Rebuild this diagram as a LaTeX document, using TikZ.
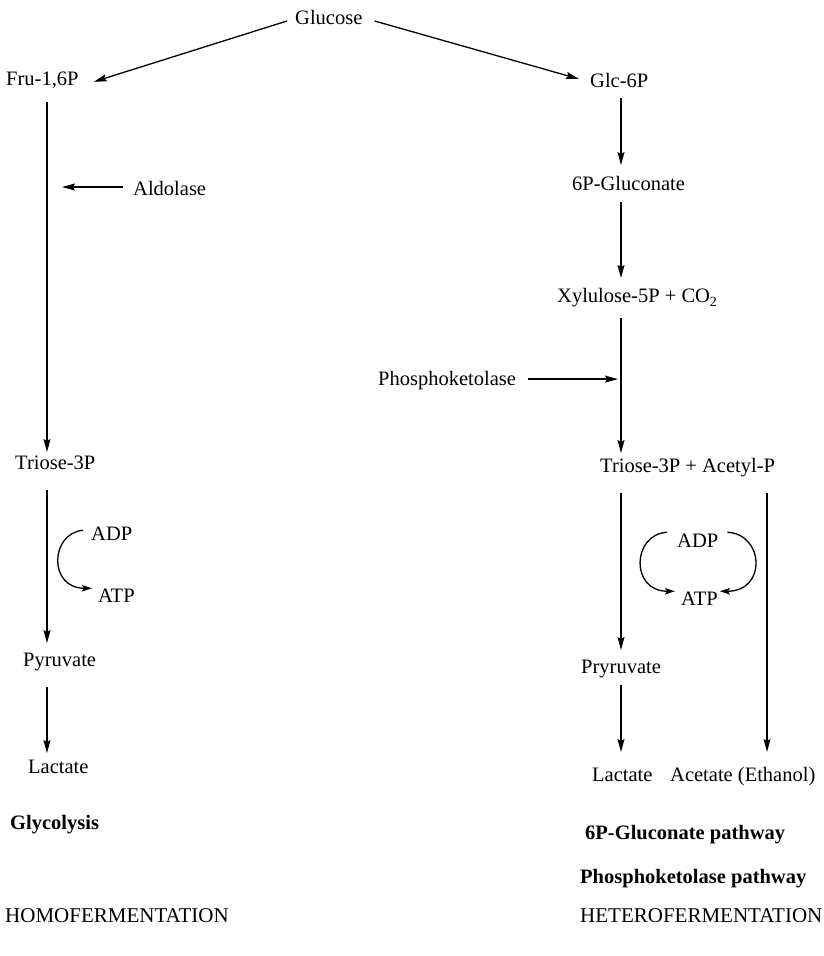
\documentclass[tikz,border=0pt]{standalone}
\usepackage{fontspec}
\setmainfont{Liberation Serif}
\usetikzlibrary{arrows.meta,calc}
\begin{document}
\begin{tikzpicture}[x=1pt,y=-1pt,
  lbl/.style={inner sep=0pt, anchor=base west, font=\fontsize{20.5}{24}\selectfont},
  bold/.style={lbl, font=\fontsize{20.5}{24}\selectfont\bfseries},
  big/.style={lbl, font=\fontsize{21}{24}\selectfont},
  arr/.style={line width=1.3pt, -{Stealth[length=13pt,width=7pt,inset=2pt]}},
  cyc/.style={line width=1.3pt, -{Stealth[length=10pt,width=6.5pt,inset=2pt]}}]
\useasboundingbox (0,0) rectangle (823,956);
\coordinate (L) at (47,0);
\coordinate (R) at (621,0);
\coordinate (RR) at (767,0);
% nodes
\node[lbl] (gl) at (295,24) {Glucose};
\node[lbl] (fru) at (6,85) {Fru-1,6P};
\node[lbl] (glc) at (590,87) {Glc-6P};
\node[lbl] (ald) at (133,195) {Aldolase};
\node[lbl] (triL) at (15,469) {Triose-3P};
\node[lbl] (adpL) at (91,540) {ADP};
\node[lbl] (atpL) at (98,602) {ATP};
\node[lbl] (pyr) at (23,666) {Pyruvate};
\node[lbl] (lacL) at (28,773) {Lactate};
\node[bold] (glyc) at (10,829) {Glycolysis};
\node[big] (homo) at (5,922) {HOMOFERMENTATION};
\node[lbl] (gluc) at (572,190) {6P-Gluconate};
\node[lbl] (xyl) at (557,302) {Xylulose-5P + CO\raisebox{-0.45ex}{\fontsize{14}{14}\selectfont 2}};
\node[lbl] (phk) at (378,385) {Phosphoketolase};
\node[lbl] (triR) at (600,472) {Triose-3P + Acetyl-P};
\node[lbl] (adpR) at (677,547) {ADP};
\node[lbl] (atpR) at (681,605) {ATP};
\node[lbl] (pry) at (581,673) {Pryruvate};
\node[lbl] (lacR) at (592,781) {Lactate};
\node[lbl] (acet) at (670,781) {Acetate (Ethanol)};
\node[bold] (pgp) at (585,839) {6P-Gluconate pathway};
\node[bold] (pkp) at (580,883) {Phosphoketolase pathway};
\node[big] (hetero) at (580,922) {HETEROFERMENTATION};
% diagonal arrows
\draw[arr] ($(gl.west)+(-8,4)$) -- ($(fru.east)+(15,2)$);
\draw[arr] ($(gl.east)+(12,4)$) -- ($(glc.west)+(-11,-1)$);
% left column
\draw[arr] ($(L|-fru.base)+(0,17)$) -- ($(L|-triL.base)+(0,-17)$);
\draw[arr] ($(ald.west)+(-10,-1)$) -- ($(L|-ald.west)+(15,-1)$);
\draw[arr] ($(L|-triL.base)+(0,21)$) -- ($(L|-pyr.base)+(0,-23)$);
\draw[arr] ($(L|-pyr.base)+(0,21)$) -- ($(L|-lacL.base)+(0,-20)$);
\draw[cyc] ($(adpL.west)+(-8,-3)$) .. controls +(-33,3) and +(-44,0) .. ($(atpL.west)+(-6,-7)$);
% right column
\draw[arr] ($(R|-glc.base)+(0,11)$) -- ($(R|-gluc.base)+(0,-25)$);
\draw[arr] ($(R|-gluc.base)+(0,12)$) -- ($(R|-xyl.base)+(0,-24)$);
\draw[arr] ($(R|-xyl.base)+(0,16)$) -- ($(R|-triR.base)+(0,-19)$);
\draw[arr] ($(phk.east)+(12,-1)$) -- ($(R|-phk.east)+(-3,-1)$);
\draw[arr] ($(R|-triR.base)+(0,21)$) -- ($(R|-pry.base)+(0,-23)$);
\draw[arr] ($(R|-pry.base)+(0,12)$) -- ($(R|-lacR.base)+(0,-29)$);
\draw[arr] ($(RR|-triR.base)+(0,21)$) -- ($(RR|-acet.base)+(0,-29)$);
\draw[cyc] ($(adpR.west)+(-10,-8)$) .. controls +(-35,2) and +(-45,0) .. ($(atpR.west)+(-6,-7)$);
\draw[cyc] ($(adpR.east)+(9,-8)$) .. controls +(37,2) and +(47,0) .. ($(atpR.east)+(2,-7)$);
\end{tikzpicture}
\end{document}
